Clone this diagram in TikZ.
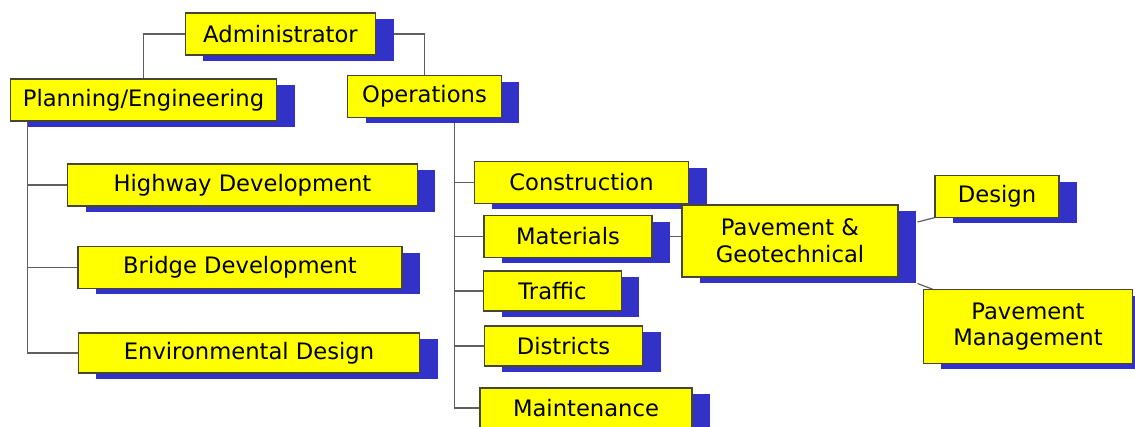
\documentclass[tikz,border=0pt]{standalone}
\usepackage{fontspec}
\setmainfont{DejaVu Sans}
\usetikzlibrary{calc,shadows,backgrounds}

\definecolor{boxyellow}{RGB}{255,255,0}
\definecolor{boxshadow}{RGB}{50,50,200}
\definecolor{boxline}{RGB}{70,70,50}
\definecolor{linkgray}{RGB}{95,95,95}

\tikzset{
  orgbox/.style={draw=boxline, line width=0.8pt, fill=boxyellow, text=black,
    inner sep=0pt, align=center, font=\fontsize{17}{20}\selectfont,
    drop shadow={shadow xshift=13.5pt, shadow yshift=-4.5pt, fill=boxshadow, opacity=1}},
  orglink/.style={draw=linkgray, line width=0.9pt}
}

\begin{document}
\begin{tikzpicture}[x=0.75pt,y=0.75pt,yscale=-1,xscale=1]
\useasboundingbox (0,0) rectangle (1135,427);

% top level
\node [orgbox, minimum width=143pt, minimum height=31.5pt] (admin) at (280.5,34) {Administrator};
\node [orgbox, minimum width=200pt, minimum height=31.5pt] (plan) at (143.5,100) {Planning/Engineering};
\node [orgbox, minimum width=115pt, minimum height=31pt] (ops) at (424.5,96.5) {Operations};

% planning side
\node [orgbox, minimum width=262pt, minimum height=31.5pt] (hwy) at (242.5,185) {Highway Development};
\node [orgbox, minimum width=243pt, minimum height=31pt] (brg) at (240,267.5) {Bridge Development};
\node [orgbox, minimum width=256pt, minimum height=30pt] (env) at (249,353) {Environmental Design};

% operations side
\node [orgbox, minimum width=161pt, minimum height=31pt] (cons) at (581.5,182.5) {Construction};
\node [orgbox, minimum width=126pt, minimum height=31pt] (mat) at (568,236.5) {Materials};
\node [orgbox, minimum width=103pt, minimum height=30pt] (traf) at (552.5,291) {Traffic};
\node [orgbox, minimum width=119pt, minimum height=30pt] (dist) at (563.5,346) {Districts};
\node [orgbox, minimum width=159pt, minimum height=30pt] (maint) at (586,408) {Maintenance};

% pavement
\node [orgbox, minimum width=162pt, minimum height=54pt] (pav) at (790,241) {Pavement \&\\Geotechnical};
\node [orgbox, minimum width=93pt, minimum height=31pt] (des) at (997,196.5) {Design};
\node [orgbox, minimum width=157pt, minimum height=55pt] (pm) at (1028,326.5) {Pavement\\Management};

% connectors
\begin{scope}[on background layer]
\draw [orglink] (admin.west) -| (plan.north);
\draw [orglink] (admin.east) -| (ops.north);

\coordinate (pltrunk) at ($(plan.south west)+(18,0)$);
\draw [orglink] (pltrunk) |- (env.west);
\draw [orglink] (pltrunk |- hwy.west) -- (hwy.west);
\draw [orglink] (pltrunk |- brg.west) -- (brg.west);

\coordinate (optrunk) at ($(ops.south west)+(107,0)$);
\draw [orglink] (optrunk) |- (maint.west);
\draw [orglink] (optrunk |- cons.west) -- (cons.west);
\draw [orglink] (optrunk |- mat.west) -- (mat.west);
\draw [orglink] (optrunk |- traf.west) -- (traf.west);
\draw [orglink] (optrunk |- dist.west) -- (dist.west);

\draw [orglink] (mat.east) -- (mat.east -| pav.west);
\draw [orglink] ($(pav.east)+(19,-19)$) -- (des.south west);
\draw [orglink] ($(pav.south east)+(19,6)$) -- ($(pm.north west)+(10,0)$);
\end{scope}
\end{tikzpicture}
\end{document}
